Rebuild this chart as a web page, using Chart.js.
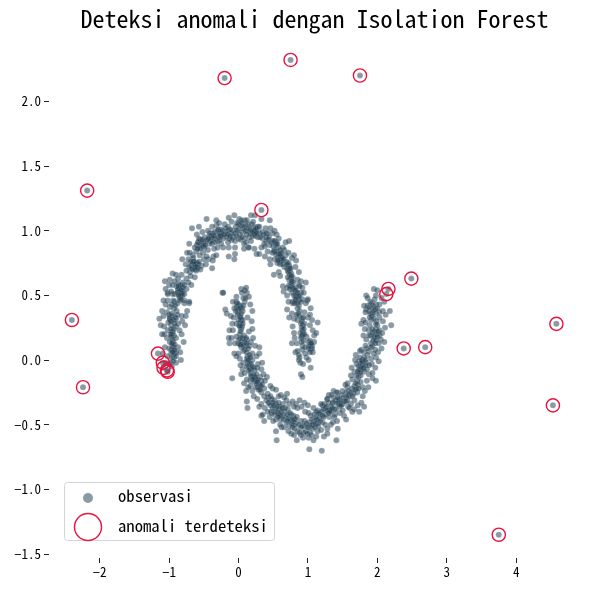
<!DOCTYPE html>
<html><head><meta charset="utf-8">
<style>html,body{margin:0;padding:0;background:#fff}#w{width:590px;height:590px;position:relative}</style>
<script src="https://cdn.jsdelivr.net/npm/chart.js@4"></script></head>
<body><div id="w"><canvas id="c" width="590" height="590"></canvas></div>
<script>
const titleText = "Deteksi anomali dengan Isolation Forest";
const seriesNames = ["observasi", "anomali terdeteksi"];
const anomalies = [[-0.20,2.18],[0.75,2.32],[1.75,2.20],[-2.18,1.31],[0.33,1.16],[-2.40,0.31],[-2.24,-0.21],[-1.16,0.05],[-1.09,-0.02],[-1.08,-0.06],[-1.03,-0.08],[-1.02,-0.09],[2.16,0.55],[2.13,0.51],[2.49,0.63],[2.38,0.09],[2.69,0.10],[4.58,0.28],[4.53,-0.35],[3.75,-1.35]];
const upperLeftLimb = [[-1.02,0.52],[-0.95,0.51],[-0.82,0.53],[-0.78,0.51],[-0.71,0.44],[-0.78,0.44],[-1.02,0.46],[-0.92,0.45],[-0.99,0.41],[-0.93,0.40],[-1.03,0.37],[-1.14,0.32],[-1.08,0.34],[-0.99,0.33],[-0.98,0.31],[-0.90,0.32],[-0.82,0.34],[-0.81,0.30],[-0.87,0.28],[-0.97,0.27],[-0.90,0.26],[-1.02,0.23],[-0.95,0.21],[-0.93,0.19],[-0.82,0.20],[-0.90,0.17],[-1.03,0.17],[-0.94,0.14],[-0.95,0.11],[-1.06,0.10],[-0.87,0.10],[-0.97,0.05],[-0.90,0.06],[-0.93,0.02],[-1.02,0.03],[-0.90,-0.02],[-0.98,-0.02],[-1.09,0.05],[-0.99,0.62],[-0.95,0.67],[-0.90,0.66],[-1.00,0.58],[-0.97,0.53],[-1.02,0.51],[-0.87,0.59],[-0.82,0.56],[-0.80,0.60],[-0.75,0.63],[-0.68,0.58],[-0.87,0.54],[-0.85,0.51],[-0.80,0.52],[-0.75,0.55],[-0.92,0.51],[-0.71,0.45],[-0.84,0.46],[-0.94,0.46],[-0.78,0.46],[-0.81,0.78]];
const upperTop = [[-0.46,1.09],[-0.67,1.02],[-0.57,1.03],[-0.60,0.97],[-0.71,0.90],[-0.38,0.71],[-0.14,0.80],[-0.05,0.82],[-0.06,0.78],[-0.23,0.52],[-0.76,0.74],[-0.72,0.78],[-0.68,0.73],[-0.66,0.75],[-0.62,0.74],[-0.59,0.71],[-0.53,0.73],[-0.75,0.69],[-0.70,0.68],[-0.63,0.64],[-0.61,0.69],[-0.66,0.81],[-0.61,0.84],[-0.56,0.87],[-0.58,0.91],[-0.54,0.90],[-0.49,0.87],[-0.44,0.85],[-0.42,0.90],[-0.51,0.83],[-0.56,0.81],[-0.43,0.78],[-0.36,0.80],[-0.32,0.81],[-0.37,0.77],[-0.49,0.95],[-0.42,0.96],[-0.37,0.98],[-0.32,0.96],[-0.25,0.98],[-0.25,1.01],[-0.32,1.04],[-0.32,1.08],[-0.20,1.05],[-0.15,1.03],[-0.10,1.07],[-0.06,1.12],[0.01,1.09],[0.09,1.08],[0.14,1.05],[-0.08,1.00],[0.00,1.01],[0.06,1.02],[-0.22,0.94],[-0.13,0.94],[-0.08,0.95],[0.00,0.94],[0.09,0.94],[0.14,0.87],[-0.30,0.92],[-0.22,0.87],[-0.10,0.98],[0.03,0.93],[0.08,0.86],[0.15,0.87]];
const upperRightArc = [[0.45,1.08],[0.39,1.02],[0.52,1.00],[0.49,0.98],[0.55,0.97],[0.33,1.09],[0.24,1.12],[0.18,1.12],[0.12,1.08],[0.23,1.03],[0.25,0.99],[0.11,1.04],[0.04,1.08],[0.06,0.99],[0.16,0.95],[0.28,0.95],[0.35,0.94],[0.42,0.98],[0.40,0.92],[0.45,0.89],[0.54,0.91],[0.57,0.87],[0.64,0.87],[0.73,0.92],[0.66,0.85],[0.26,0.82],[0.38,0.80],[0.45,0.78],[0.46,0.74],[0.52,0.78],[0.56,0.79],[0.61,0.78],[0.59,0.76],[0.68,0.81],[0.77,0.79],[0.80,0.81],[0.66,0.72],[0.73,0.73],[0.71,0.69],[0.82,0.72],[0.51,0.66],[0.58,0.68],[0.60,0.65],[0.76,0.67],[0.78,0.64],[0.64,0.57],[0.65,0.53],[0.73,0.58],[0.81,0.56],[0.85,0.62],[0.90,0.61],[0.97,0.60],[0.87,0.58],[0.83,0.53],[0.90,0.52],[0.78,0.44],[0.87,0.46],[0.99,0.46],[0.92,0.47]];
const upperRightLimb = [[0.75,0.57],[0.80,0.55],[0.88,0.57],[0.92,0.56],[0.78,0.45],[0.84,0.49],[0.88,0.50],[1.00,0.47],[0.90,0.45],[0.77,0.36],[0.85,0.40],[0.88,0.38],[0.95,0.37],[1.04,0.40],[0.80,0.32],[0.85,0.31],[0.92,0.32],[0.95,0.28],[1.03,0.27],[1.14,0.29],[0.92,0.23],[1.07,0.23],[1.09,0.19],[0.98,0.18],[0.90,0.17],[1.01,0.14],[1.09,0.14],[0.77,0.13],[0.84,0.13],[0.92,0.11],[1.06,0.11],[1.04,0.08],[1.07,0.06],[0.92,0.08],[0.82,0.06],[0.98,0.02],[0.88,0.02],[0.87,0.00],[0.89,-0.02],[1.04,-0.06],[0.90,-0.11],[0.92,-0.13]];
const lowerLeftLimb = [[0.04,0.55],[0.09,0.54],[0.12,0.52],[-0.22,0.52],[-0.03,0.49],[0.07,0.48],[0.15,0.49],[-0.03,0.45],[0.00,0.43],[0.09,0.45],[-0.19,0.39],[-0.17,0.36],[-0.06,0.40],[-0.01,0.37],[0.06,0.38],[0.02,0.34],[0.13,0.33],[0.04,0.31],[-0.09,0.28],[-0.03,0.28],[0.06,0.31],[-0.08,0.23],[0.04,0.24],[0.02,0.20],[0.15,0.22],[-0.10,0.17],[-0.03,0.18],[0.08,0.19],[0.12,0.16],[0.18,0.14],[-0.13,0.13],[0.00,0.13],[0.04,0.10],[0.11,0.11],[0.16,0.11],[-0.06,0.05],[0.00,0.05],[0.07,0.07],[0.30,0.10],[0.13,0.03],[0.20,0.05],[0.30,0.05],[0.07,-0.02],[0.13,-0.01],[0.20,0.00],[0.28,-0.03],[0.06,-0.07],[0.16,-0.06],[0.33,-0.07],[0.18,-0.10],[0.23,-0.08],[-0.09,-0.14],[0.31,-0.13],[0.41,-0.13],[0.08,-0.18],[0.17,-0.16],[0.23,-0.17],[0.30,-0.19],[0.33,-0.16]];
const lowerBottom = [[0.11,-0.24],[0.20,-0.24],[0.17,-0.20],[0.25,-0.15],[0.28,-0.21],[0.33,-0.25],[0.37,-0.22],[0.49,-0.22],[0.54,-0.23],[0.42,-0.26],[0.61,-0.27],[0.12,-0.32],[0.13,-0.37],[0.33,-0.43],[0.35,-0.42],[0.37,-0.47],[0.45,-0.33],[0.33,-0.34],[0.47,-0.40],[0.52,-0.31],[0.54,-0.34],[0.59,-0.38],[0.64,-0.34],[0.69,-0.31],[0.73,-0.34],[0.59,-0.42],[0.66,-0.40],[0.71,-0.38],[0.76,-0.42],[0.54,-0.46],[0.61,-0.46],[0.68,-0.44],[0.54,-0.55],[0.55,-0.62],[0.66,-0.52],[0.73,-0.51],[0.72,-0.55],[0.78,-0.47],[0.83,-0.49],[0.88,-0.31],[0.83,-0.34],[0.91,-0.36],[0.85,-0.37],[0.90,-0.47],[0.95,-0.51],[0.85,-0.55],[0.93,-0.60],[0.84,-0.62],[1.01,-0.60],[1.08,-0.62],[1.02,-0.69],[1.20,-0.70],[1.04,-0.43],[1.02,-0.48],[1.09,-0.47],[1.14,-0.49],[1.16,-0.45],[1.21,-0.48],[1.07,-0.53],[1.14,-0.55],[1.23,-0.59],[1.28,-0.53],[1.28,-0.57],[1.41,-0.62],[1.08,-0.37],[1.14,-0.39],[1.24,-0.34],[1.20,-0.40],[1.28,-0.30],[1.36,-0.33],[1.41,-0.25],[1.31,-0.39],[1.38,-0.38],[1.31,-0.44],[1.43,-0.53],[1.39,-0.42],[1.43,-0.34]];
const lowerRightLimb = [[1.84,0.50],[1.95,0.55],[2.00,0.54],[1.98,0.50],[2.10,0.45],[1.86,0.42],[1.98,0.43],[2.03,0.43],[2.08,0.38],[2.18,0.38],[1.84,0.39],[1.88,0.38],[1.93,0.40],[1.98,0.36],[2.03,0.37],[1.93,0.36],[1.83,0.37],[2.03,0.33],[1.77,0.28],[1.91,0.31],[1.89,0.27],[1.99,0.30],[2.20,0.27],[2.11,0.25],[1.88,0.23],[1.98,0.24],[2.03,0.23],[1.99,0.20],[1.88,0.19],[2.03,0.19],[1.84,0.16],[1.95,0.17],[2.05,0.16],[1.91,0.13],[2.02,0.13],[1.93,0.11],[1.77,0.08],[1.69,0.04],[1.81,0.06],[1.88,0.07],[2.01,0.06],[1.98,0.02],[1.74,-0.01],[1.79,0.00],[1.86,0.04],[1.91,0.01],[1.73,-0.05],[1.79,-0.04],[1.84,-0.02],[1.92,-0.03],[1.67,-0.09],[1.76,-0.08],[1.81,-0.09],[1.88,-0.11],[1.76,-0.12],[1.93,-0.10],[1.93,-0.14],[1.98,-0.16],[1.64,-0.15],[1.71,-0.16],[1.57,-0.18],[1.67,-0.20],[1.76,-0.17],[1.79,-0.21],[1.71,-0.25],[1.79,-0.28],[1.64,-0.22],[1.59,-0.24],[1.37,-0.24],[1.43,-0.25],[1.50,-0.24],[1.55,-0.25],[1.28,-0.30],[1.36,-0.33],[1.45,-0.30],[1.52,-0.29],[1.57,-0.31],[1.67,-0.31],[1.81,-0.36],[1.67,-0.38],[1.74,-0.40],[1.64,-0.40],[1.21,-0.35],[1.52,-0.43],[1.55,-0.46],[1.40,-0.38],[1.45,-0.34],[1.31,-0.39],[1.26,-0.42],[1.38,-0.44]];
const denseClumps = [[-0.87,0.55],[-0.86,0.57],[-0.84,0.53],[-0.88,0.52],[-0.83,0.50],[-0.85,0.48],[-0.91,0.33],[-0.93,0.31],[-0.95,0.34],[-0.92,0.28],[-0.95,0.22],[-0.93,0.24],[-0.96,0.20],[-1.00,0.09],[-0.97,0.08],[-0.94,0.07],[-0.96,0.02],[-0.92,0.05],[-0.65,0.76],[-0.63,0.72],[-0.67,0.71],[-0.60,0.75],[-0.62,0.70],[-0.58,0.74],[-0.53,0.89],[-0.51,0.91],[-0.55,0.93],[-0.50,0.88],[-0.47,0.92],[-0.38,0.93],[-0.35,0.94],[-0.33,0.91],[-0.40,0.92],[-0.29,0.95],[-0.27,0.93],[-0.24,0.96],[-0.18,0.98],[-0.15,1.00],[-0.12,1.01],[-0.17,0.95],[-0.04,1.03],[0.00,1.05],[0.03,1.04],[0.05,1.06],[0.08,1.03],[0.13,1.00],[0.15,1.02],[0.17,0.98],[0.20,0.96],[0.22,1.00],[0.24,0.96],[0.26,1.01],[0.28,1.03],[0.30,0.98],[0.37,0.90],[0.40,0.95],[0.43,0.93],[0.47,0.91],[0.50,0.88],[0.52,0.85],[0.55,0.84],[0.58,0.82],[0.60,0.85],[0.62,0.83],[0.56,0.75],[0.60,0.74],[0.62,0.77],[0.69,0.76],[0.72,0.75],[0.70,0.71],[0.74,0.69],[0.76,0.63],[0.73,0.62],[0.76,0.59],[0.78,0.56],[0.82,0.54],[0.80,0.50],[0.83,0.46],[0.87,0.42],[0.85,0.44],[0.93,0.27],[0.91,0.25],[0.93,0.21],[0.91,0.18],[1.04,0.12],[1.06,0.09],[1.03,0.15],[0.05,0.40],[0.03,0.42],[0.00,0.39],[0.03,0.29],[0.01,0.27],[0.05,0.26],[0.03,0.17],[0.05,0.14],[0.02,0.12],[0.12,0.01],[0.16,-0.02],[0.14,-0.04],[0.18,-0.03],[0.19,-0.13],[0.22,-0.12],[0.24,-0.14],[0.26,-0.18],[0.25,-0.21],[0.29,-0.23],[0.43,-0.29],[0.46,-0.28],[0.48,-0.30],[0.50,-0.33],[0.55,-0.40],[0.57,-0.41],[0.53,-0.38],[0.60,-0.36],[0.63,-0.43],[0.65,-0.46],[0.69,-0.48],[0.70,-0.42],[0.72,-0.45],[0.80,-0.50],[0.82,-0.46],[0.79,-0.43],[0.92,-0.51],[0.97,-0.55],[0.94,-0.56],[1.02,-0.52],[1.06,-0.46],[1.05,-0.50],[1.09,-0.42],[1.12,-0.44],[1.18,-0.42],[1.25,-0.37],[1.22,-0.38],[1.33,-0.36],[1.30,-0.33],[1.44,-0.33],[1.47,-0.31],[1.50,-0.34],[1.49,-0.27],[1.55,-0.29],[1.60,-0.28],[1.66,-0.26],[1.70,-0.22],[1.72,-0.19],[1.73,-0.13],[1.75,-0.10],[1.78,-0.07],[1.74,-0.07],[1.77,-0.02],[1.81,0.02],[1.83,-0.04],[1.90,0.19],[1.94,0.15],[1.97,0.13],[1.96,0.22],[2.00,0.27],[1.98,0.28],[1.90,0.36],[1.95,0.38],[1.88,0.41],[1.92,0.34]];
const denseLeft = [[-0.83,0.54],[-0.82,0.52],[-0.85,0.55],[-0.81,0.50],[-0.86,0.50],[-0.80,0.56],[-0.84,0.58],[-0.89,0.57],[-0.83,0.47],[-0.88,0.44],[-0.99,0.32],[-0.97,0.30],[-1.00,0.35],[-0.96,0.36],[-1.01,0.29],[-0.97,0.24],[-0.98,0.20],[-0.97,0.18],[-0.95,0.16],[-0.99,0.14],[-0.94,0.10],[-0.92,0.08],[-0.95,0.06],[-0.92,0.12],[-0.96,0.13],[-0.90,0.03],[-0.94,-0.01],[-1.00,-0.03],[-0.96,-0.05],[-0.91,0.42],[-0.89,0.38],[-0.96,0.43],[-0.88,0.35],[-1.05,0.43],[-1.07,0.26],[-1.10,0.20],[-0.85,0.23],[-0.87,0.63],[-0.92,0.61],[-0.95,0.58],[-0.78,0.58],[-0.72,0.60],[-0.63,0.74],[-0.64,0.76],[-0.66,0.70],[-0.60,0.72],[-0.69,0.76],[-0.71,0.72],[-0.65,0.79],[-0.57,0.76],[-0.55,0.70],[-0.69,0.65],[-0.58,0.91],[-0.60,0.89],[-0.57,0.94],[-0.55,0.86],[-0.52,0.93],[-0.63,0.87],[-0.59,0.86],[-0.48,0.89],[-0.45,0.93],[-0.39,0.96],[-0.41,0.98],[-0.36,0.96],[-0.43,0.94],[-0.38,0.90],[-0.34,0.99],[-0.30,1.00],[-0.27,0.98],[-0.26,0.96],[-0.29,1.01],[-0.23,1.00],[-0.21,0.97],[-0.18,1.02],[-0.16,0.97],[-0.12,0.96],[-0.10,0.93],[-0.05,0.98],[-0.03,0.96],[-0.02,1.00],[-0.25,0.90],[-0.15,0.91],[-0.05,0.92],[0.02,0.97],[0.05,0.95]];
const denseRight = [[0.10,1.00],[0.12,0.97],[0.17,1.01],[0.19,1.05],[0.21,1.07],[0.23,1.00],[0.25,1.02],[0.23,0.97],[0.20,0.99],[0.26,0.98],[0.18,0.92],[0.11,0.91],[0.30,1.03],[0.31,0.95],[0.34,0.99],[0.36,0.97],[0.40,0.98],[0.44,0.95],[0.38,0.88],[0.50,0.92],[0.54,0.89],[0.52,0.92],[0.56,0.90],[0.51,0.84],[0.49,0.83],[0.54,0.82],[0.59,0.80],[0.61,0.80],[0.63,0.79],[0.60,0.82],[0.57,0.77],[0.65,0.78],[0.64,0.74],[0.70,0.74],[0.73,0.71],[0.75,0.71],[0.72,0.68],[0.74,0.66],[0.71,0.64],[0.76,0.65],[0.79,0.60],[0.77,0.61],[0.70,0.56],[0.74,0.55],[0.77,0.52],[0.82,0.50],[0.85,0.52],[0.87,0.49],[0.82,0.47],[0.81,0.44],[0.86,0.36],[0.88,0.34],[0.84,0.35],[0.91,0.30],[0.93,0.33],[0.90,0.28],[0.94,0.24],[0.92,0.19],[0.95,0.20],[0.89,0.21],[0.94,0.15],[0.91,0.14],[1.02,0.11],[1.05,0.13],[1.01,0.09],[1.03,0.06],[0.85,0.07],[0.87,0.04],[0.96,0.05]];
const denseLower = [[-0.03,0.41],[-0.02,0.44],[-0.04,0.38],[0.02,0.40],[-0.01,0.35],[0.04,0.36],[0.07,0.42],[0.10,0.48],[0.05,0.52],[0.11,0.56],[0.00,0.31],[0.03,0.33],[0.06,0.28],[0.02,0.26],[0.03,0.22],[0.01,0.16],[0.06,0.17],[0.03,0.12],[0.11,0.17],[0.09,0.14],[0.07,0.11],[0.12,0.13],[0.09,0.08],[0.14,0.09],[0.12,0.06],[0.16,0.04],[0.14,0.00],[0.17,0.02],[0.12,-0.05],[0.17,-0.07],[0.15,-0.08],[0.20,-0.05],[0.22,-0.06],[0.18,-0.12],[0.23,-0.13],[0.21,-0.15],[0.26,-0.11],[0.28,-0.15],[0.27,-0.17],[0.32,-0.20],[0.34,-0.19],[0.31,-0.23],[0.37,-0.28],[0.40,-0.31],[0.43,-0.33],[0.46,-0.35],[0.49,-0.37],[0.51,-0.35],[0.48,-0.41],[0.52,-0.42],[0.56,-0.36],[0.58,-0.33],[0.62,-0.40],[0.60,-0.43],[0.57,-0.44],[0.63,-0.37],[0.67,-0.37],[0.74,-0.41],[0.75,-0.46],[0.71,-0.47],[0.77,-0.49],[0.80,-0.46],[0.84,-0.44],[0.87,-0.50],[0.81,-0.53],[0.78,-0.52],[0.90,-0.52],[0.88,-0.56],[0.95,-0.47],[0.98,-0.49],[1.00,-0.52],[1.03,-0.56],[1.07,-0.50],[1.10,-0.52],[1.11,-0.49],[1.13,-0.46],[1.15,-0.51],[1.18,-0.47],[1.12,-0.40],[1.16,-0.41],[1.21,-0.43],[1.23,-0.44],[1.26,-0.36],[1.28,-0.39],[1.30,-0.41],[1.33,-0.40],[1.35,-0.37],[1.37,-0.29],[1.40,-0.31],[1.43,-0.29],[1.46,-0.36],[1.48,-0.35],[1.52,-0.32],[1.55,-0.32],[1.58,-0.27],[1.62,-0.25],[1.64,-0.28],[1.68,-0.23],[1.73,-0.22],[1.69,-0.18],[1.70,-0.12],[1.72,-0.09],[1.76,-0.05],[1.78,-0.01],[1.75,0.02],[1.80,-0.06],[1.83,0.00],[1.85,-0.07],[1.88,-0.04],[1.85,0.09],[1.91,0.10],[1.97,0.08],[1.93,0.21],[1.96,0.18],[2.00,0.18],[1.98,0.15],[1.93,0.24],[2.01,0.22],[1.94,0.42],[1.97,0.39],[1.92,0.44],[2.00,0.40],[1.89,0.33],[1.95,0.32],[1.90,0.45],[1.96,0.47]];
const fringeUpper = [[-1.12,0.27],[-1.10,0.38],[-1.08,0.46],[-1.05,0.55],[-1.06,0.61],[-0.76,0.34],[-0.74,0.38],[-0.77,0.27],[-0.79,0.14],[-0.84,0.06],[-0.83,0.00],[-1.07,0.20],[-1.05,-0.02],[-0.82,0.66],[-0.70,0.83],[-0.74,0.83],[-0.50,0.78],[-0.47,0.74],[-0.46,0.80],[-0.30,0.87],[-0.35,0.86],[-0.14,0.87],[-0.05,0.87],[-0.28,1.06],[-0.38,1.03],[-0.44,1.00],[-0.52,0.99],[-0.14,1.10],[-0.02,1.06],[0.08,0.90],[0.23,0.86],[0.33,0.87],[0.30,0.82],[0.42,0.84],[0.46,1.02],[0.58,0.94],[0.68,0.91],[0.72,0.83],[0.83,0.77],[0.87,0.68],[0.94,0.52],[0.97,0.44],[0.70,0.50],[0.72,0.45],[0.70,0.39],[0.73,0.33],[0.78,0.26],[0.80,0.21],[0.81,0.17],[1.00,0.33],[1.03,0.35],[1.06,0.31],[1.12,0.21],[0.96,0.10],[0.93,-0.03],[1.01,0.00]];
const fringeLower = [[0.02,0.01],[-0.03,0.03],[0.03,-0.04],[0.09,-0.10],[0.04,-0.11],[0.26,0.03],[0.27,-0.06],[0.34,-0.02],[0.36,-0.11],[0.38,-0.16],[0.12,-0.15],[0.14,-0.21],[0.22,-0.28],[0.27,-0.30],[0.30,-0.36],[0.38,-0.37],[0.42,-0.40],[0.45,-0.44],[0.50,-0.47],[0.46,-0.20],[0.58,-0.28],[0.70,-0.26],[0.66,-0.29],[0.78,-0.32],[0.80,-0.36],[0.95,-0.33],[1.00,-0.35],[0.96,-0.40],[1.01,-0.41],[0.62,-0.52],[0.60,-0.50],[0.76,-0.57],[0.80,-0.58],[0.90,-0.58],[0.99,-0.57],[1.05,-0.58],[1.12,-0.59],[1.19,-0.54],[1.19,-0.34],[1.25,-0.50],[1.33,-0.50],[1.36,-0.48],[1.30,-0.27],[1.34,-0.27],[1.46,-0.41],[1.42,-0.47],[1.50,-0.39],[1.58,-0.36],[1.62,-0.34],[1.57,-0.21],[1.54,-0.19],[1.62,-0.12],[1.63,-0.06],[1.70,-0.03],[1.68,0.00],[1.75,0.07],[1.83,0.11],[1.95,0.05],[2.02,-0.01],[1.97,-0.06],[1.85,-0.16],[1.87,-0.21],[1.82,-0.24],[1.77,-0.33],[1.72,-0.35],[1.60,-0.37],[1.80,0.19],[1.82,0.24],[1.80,0.31],[1.83,0.29],[1.81,0.42],[1.86,0.48],[2.06,0.48],[2.08,0.30],[2.07,0.21],[2.12,0.35],[2.06,0.09],[2.10,0.14],[-0.11,0.34],[-0.13,0.23],[-0.14,0.17],[-0.05,0.13],[0.20,0.24],[0.19,0.30],[0.20,0.38],[0.17,0.43],[-0.08,0.45],[-0.07,0.33],[0.21,0.17],[0.24,0.11]];
const obs = [...anomalies,...upperLeftLimb,...upperTop,...upperRightArc,...upperRightLimb,...lowerLeftLimb,...lowerBottom,...lowerRightLimb,...denseClumps,...denseLeft,...denseRight,...denseLower,...fringeUpper,...fringeLower];
const xTicksStep = 1, yTicksStep = 0.5;
const pts = a => a.map(p => ({x:p[0], y:p[1]}));
const FONT = "'Noto Sans Mono CJK JP','Liberation Mono', monospace";
const obsFill = "rgba(30,62,80,0.52)", obsEdge = "rgba(255,255,255,0.25)", ringColor = "#e8123f";
const legendBox = {
  id:"legendBox",
  afterDraw(chart){
    const c = chart.ctx; c.save();
    c.fillStyle="rgba(255,255,255,0.85)"; c.strokeStyle="#d5d5d5"; c.lineWidth=1;
    c.beginPath(); c.roundRect(64.5,482.5,210,58,3); c.fill(); c.stroke();
    c.beginPath(); c.arc(88,498,5,0,Math.PI*2); c.fillStyle=obsFill; c.fill();
    c.beginPath(); c.arc(88,527,13.5,0,Math.PI*2); c.strokeStyle=ringColor; c.lineWidth=1.4; c.stroke();
    c.fillStyle="#000"; c.font="16.67px "+FONT; c.textBaseline="middle"; c.textAlign="left";
    c.fillText(chart.data.datasets[0].label,118,496);
    c.fillText(chart.data.datasets[1].label,118,526);
    c.restore();
  }
};
const minusFmt = d => v => { const s = d ? v.toFixed(d) : String(Math.round(v)); return s.replace("-","\u2212"); };
new Chart(document.getElementById("c"),{
  type:"scatter",
  data:{datasets:[
    {label:seriesNames[0],data:pts(obs),backgroundColor:obsFill,borderColor:obsEdge,borderWidth:0.5,pointRadius:3,order:2},
    {label:seriesNames[1],data:pts(anomalies),backgroundColor:"rgba(0,0,0,0)",borderColor:ringColor,borderWidth:1.4,pointRadius:6.6,order:1}
  ]},
  options:{
    responsive:false,animation:false,devicePixelRatio:1,
    layout:{padding:{left:0,right:10,top:0,bottom:0}},
    plugins:{
      legend:{display:false},tooltip:{enabled:false},
      title:{display:true,fullSize:false,text:titleText,color:"#000",font:{family:FONT,size:24,weight:"normal"},padding:{top:4,bottom:4}}
    },
    scales:{
      x:{type:"linear",min:-2.73,max:4.92,
        afterFit(s){s.height=32;},
        border:{display:false},
        grid:{drawOnChartArea:false,drawTicks:true,tickLength:5,tickColor:"#222",tickWidth:1},
        ticks:{stepSize:xTicksStep,includeBounds:false,maxRotation:0,color:"#000",font:{family:FONT,size:13},padding:1,callback:minusFmt(0)}},
      y:{type:"linear",min:-1.53,max:2.499,
        afterFit(s){s.width=49;},
        border:{display:false},
        grid:{drawOnChartArea:false,drawTicks:true,tickLength:5,tickColor:"#222",tickWidth:1},
        ticks:{stepSize:yTicksStep,includeBounds:false,color:"#000",font:{family:FONT,size:13},padding:3,callback:minusFmt(1)}}
    }
  },
  plugins:[legendBox]
});
</script></body></html>
